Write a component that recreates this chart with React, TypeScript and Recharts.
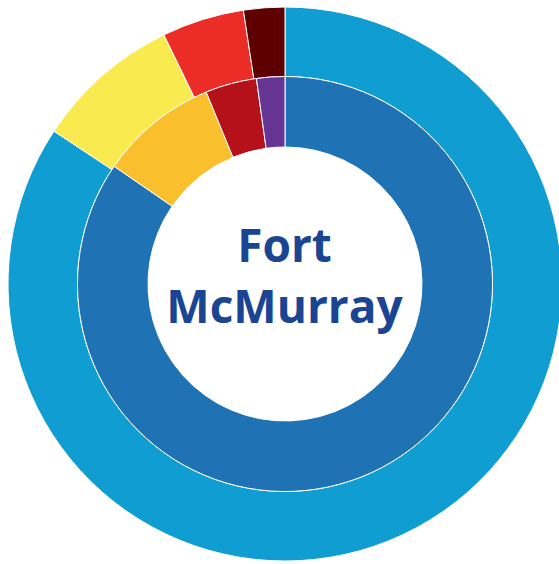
import React from 'react'
import { PieChart, Pie, Cell } from 'recharts'

// outer ring shares (percent), clockwise from 12 o'clock
const outerNames = ['Outer A', 'Outer B', 'Outer C', 'Outer D']
const outerValues = [84.3, 8.5, 4.8, 2.4]
const outerColors = ['#0f9dd2', '#f9eb4f', '#ec2d27', '#5e0000']

// inner ring shares (percent)
const innerNames = ['Inner A', 'Inner B', 'Inner C', 'Inner D']
const innerValues = [84.6, 9.2, 4.0, 2.2]
const innerColors = ['#1f72b4', '#f9bf2c', '#b5111a', '#663594']

const titleLines = ['Fort', 'McMurray']

export default function App() {
  const outerData = outerNames.map((name, i) => ({ name, value: outerValues[i] }))
  const innerData = innerNames.map((name, i) => ({ name, value: innerValues[i] }))

  return (
    <div style={{ position: 'absolute', left: 0, top: 0, width: 559, height: 564, background: '#fff' }}>
      <PieChart width={559} height={564} margin={{ top: 0, right: 0, bottom: 0, left: 0 }}>
        <Pie
          data={outerData}
          dataKey="value"
          cx={285}
          cy={284}
          innerRadius={207.5}
          outerRadius={277}
          startAngle={90}
          endAngle={-270}
          stroke="#ffffff"
          strokeWidth={1}
          isAnimationActive={false}
        >
          {outerData.map((d, i) => (
            <Cell key={d.name} fill={outerColors[i]} />
          ))}
        </Pie>
        <Pie
          data={innerData}
          dataKey="value"
          cx={285}
          cy={284}
          innerRadius={137}
          outerRadius={207.5}
          startAngle={90}
          endAngle={-270}
          stroke="#ffffff"
          strokeWidth={1}
          isAnimationActive={false}
        >
          {innerData.map((d, i) => (
            <Cell key={d.name} fill={innerColors[i]} />
          ))}
        </Pie>
      </PieChart>
      <div
        style={{
          position: 'absolute',
          left: 0,
          width: 569,
          top: 214,
          textAlign: 'center',
          fontFamily: '"Open Sans", sans-serif',
          fontWeight: 700,
          fontSize: 46,
          lineHeight: '61px',
          color: '#1a4593',
        }}
      >
        {titleLines.map((t) => (
          <div key={t}>{t}</div>
        ))}
      </div>
    </div>
  )
}
